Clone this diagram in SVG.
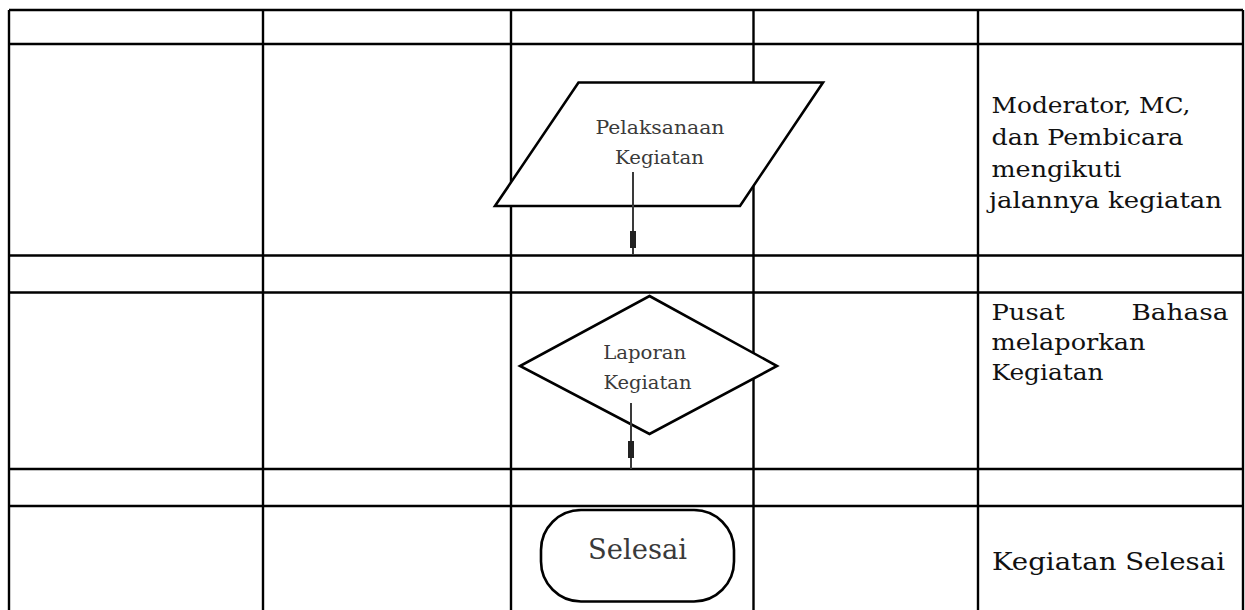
<svg xmlns="http://www.w3.org/2000/svg" width="1245" height="610" viewBox="0 0 1245 610">
<style>
.grid{stroke:#000;stroke-width:2.4;fill:none}
.shape{fill:#fff;stroke:#000;stroke-width:2.6}
.lbl{font-family:"DejaVu Serif","Liberation Serif",serif;font-size:19px;fill:#3a3a3a;text-anchor:middle}
.note{font-family:"DejaVu Serif","Liberation Serif",serif;font-size:23px;fill:#111}
.conn{stroke:#3a3a3a;stroke-width:2;fill:none}
.ah{fill:#222}
</style>
<defs>
<rect id="arrowhead" class="ah" x="-3" y="0" width="6" height="17"/>
</defs>
<rect width="1245" height="610" fill="#fff"/>
<g id="table">
<path class="grid" d="M9,10 H1243 M9,44 H1243 M9,255.5 H1243 M9,292.5 H1243 M9,469 H1243 M9,506 H1243 M9,10 V610 M263,10 V610 M511,10 V610 M753.5,10 V610 M978,10 V610 M1243,10 V610"/>
</g>
<g id="node-pelaksanaan">
<polygon class="shape" points="578.5,82.5 823,82.5 740,206 495,206"/>
<text class="lbl" x="660" y="134" textLength="129" lengthAdjust="spacingAndGlyphs">Pelaksanaan</text>
<text class="lbl" x="659.5" y="164" textLength="89" lengthAdjust="spacingAndGlyphs">Kegiatan</text>
</g>
<g id="node-laporan">
<polygon class="shape" points="649.5,296 777,366 649.5,434 520,366"/>
<text class="lbl" x="644.7" y="359" textLength="83" lengthAdjust="spacingAndGlyphs">Laporan</text>
<text class="lbl" x="647.5" y="389" textLength="88" lengthAdjust="spacingAndGlyphs">Kegiatan</text>
</g>
<g id="node-selesai">
<rect class="shape" x="541" y="510" width="193" height="91.5" rx="40" ry="40"/>
<text class="lbl" x="637.5" y="559" style="font-size:27px" textLength="99" lengthAdjust="spacingAndGlyphs">Selesai</text>
</g>
<g id="connectors">
<path class="conn" d="M633,172 V255"/>
<use href="#arrowhead" x="633" y="231"/>
<path class="conn" d="M631,403 V469"/>
<use href="#arrowhead" x="631" y="441"/>
</g>
<g id="notes">
<text class="note" x="991.5" y="113" textLength="199" lengthAdjust="spacingAndGlyphs">Moderator, MC,</text>
<text class="note" x="991.5" y="145" textLength="192" lengthAdjust="spacingAndGlyphs">dan Pembicara</text>
<text class="note" x="991.5" y="177" textLength="130" lengthAdjust="spacingAndGlyphs">mengikuti</text>
<text class="note" x="989" y="208" textLength="233" lengthAdjust="spacingAndGlyphs">jalannya kegiatan</text>
<text class="note" x="991.5" y="320" textLength="73" lengthAdjust="spacingAndGlyphs">Pusat</text>
<text class="note" x="1131.5" y="320" textLength="97" lengthAdjust="spacingAndGlyphs">Bahasa</text>
<text class="note" x="991.5" y="350" textLength="154" lengthAdjust="spacingAndGlyphs">melaporkan</text>
<text class="note" x="991.5" y="380" textLength="112" lengthAdjust="spacingAndGlyphs">Kegiatan</text>
<text class="note" x="992" y="570" style="font-size:25px" textLength="233" lengthAdjust="spacingAndGlyphs">Kegiatan Selesai</text>
</g>
</svg>
